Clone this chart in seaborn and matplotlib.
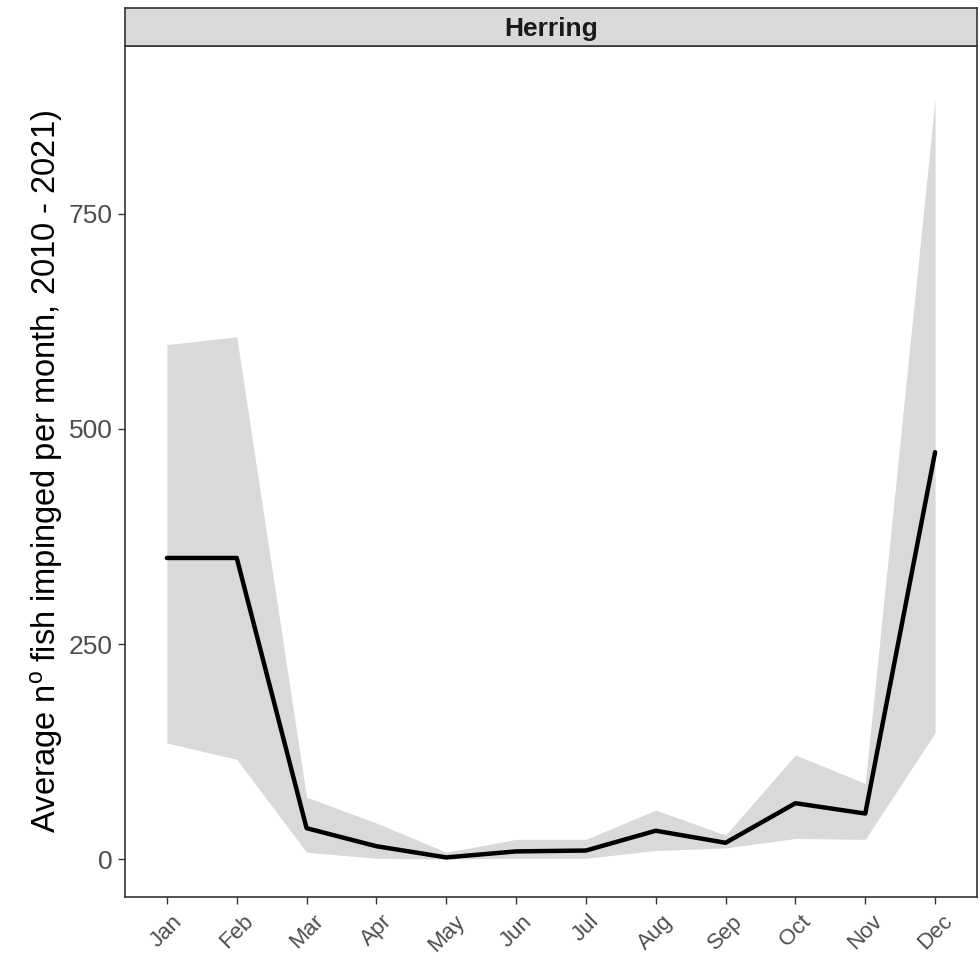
import numpy as np
import pandas as pd
import matplotlib
matplotlib.use("Agg")
import matplotlib.pyplot as plt
import seaborn as sns

months = ["Jan", "Feb", "Mar", "Apr", "May", "Jun", "Jul", "Aug", "Sep", "Oct", "Nov", "Dec"]
mean_vals = [350, 350, 36, 15, 2, 9, 10, 33, 19, 65, 53, 473]
upper_vals = [598, 607, 72, 42, 8, 23, 23, 57, 28, 121, 88, 884]
lower_vals = [135, 116, 8, 1, 0, 1, 1, 10, 13, 24, 23, 147]
y_ticks = [0, 250, 500, 750]
facet_title = "Herring"

sns.set_theme(style="white")
plt.rcParams["font.family"] = ["Liberation Sans", "DejaVu Sans"]
plt.rcParams["mathtext.fontset"] = "custom"
plt.rcParams["mathtext.rm"] = "Liberation Sans"
plt.rcParams["mathtext.it"] = "Liberation Sans:italic"

df = pd.DataFrame({"pos": np.arange(len(months)), "month": months,
                   "mean": mean_vals, "lo": lower_vals, "hi": upper_vals})

fig = plt.figure(figsize=(9.8, 9.57), dpi=100)
W, H = 980, 957
L, R, T, B = 125, 977, 46, 897
ax = fig.add_axes([L / W, 1 - B / H, (R - L) / W, (B - T) / H])

ax.fill_between(df["pos"], df["lo"], df["hi"], color="#D9D9D9", linewidth=0, zorder=1)
sns.lineplot(data=df, x="pos", y="mean", color="black", linewidth=3.2, ax=ax, zorder=2)

ax.set_xlim(-0.6, 11.6)
ax.set_ylim(-44, 945)
ax.set_xticks(df["pos"])
ax.set_xticklabels(months, rotation=45, ha="center", va="top", fontsize=16, color="#4D4D4D")
ax.set_yticks(y_ticks)
ax.set_yticklabels([str(v) for v in y_ticks], fontsize=19, color="#4D4D4D")
ax.tick_params(axis="both", which="both", length=5, width=1, color="#333333",
               bottom=True, left=True, direction="out")
ax.tick_params(axis="x", pad=5)
ax.tick_params(axis="y", pad=4)
ax.set_xlabel("")
ax.set_ylabel("Average n$^\\mathregular{o}$ fish impinged per month, 2010 - 2021)",
              fontsize=23.5, color="black")
ax.yaxis.set_label_coords(-0.070, 0.5)
ax.grid(False)
for s in ax.spines.values():
    s.set_color("#333333")
    s.set_linewidth(1.2)

sax = fig.add_axes([L / W, 1 - T / H, (R - L) / W, (T - 8) / H])
sax.set_facecolor("#D9D9D9")
sax.set_xticks([])
sax.set_yticks([])
for s in sax.spines.values():
    s.set_color("#333333")
    s.set_linewidth(1.2)
sax.text(0.5, 0.45, facet_title, ha="center", va="center", fontsize=19,
         fontweight="bold", color="#1A1A1A", transform=sax.transAxes)

fig.savefig("out.png", dpi=100)
